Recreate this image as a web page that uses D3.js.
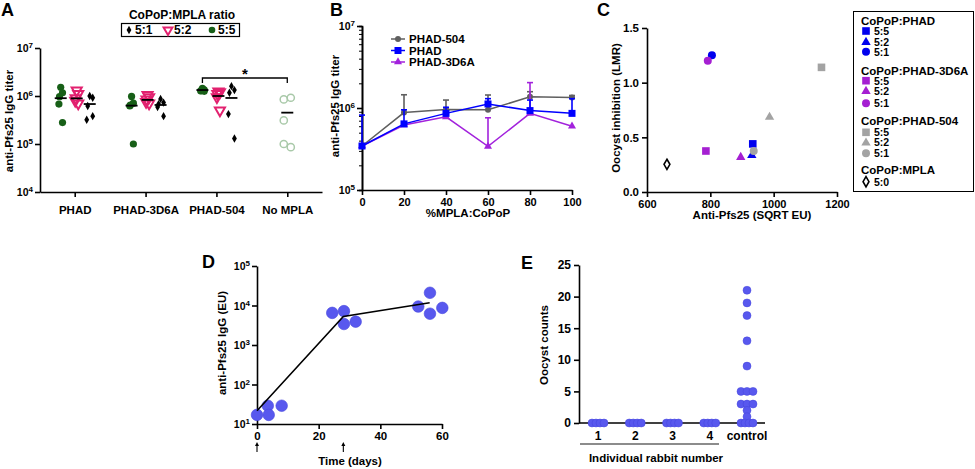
<!DOCTYPE html>
<html><head><meta charset="utf-8">
<script src="https://cdn.jsdelivr.net/npm/d3@7"></script>
<style>
body{margin:0;background:#fff}
text{font-family:"Liberation Sans",Arial,sans-serif;font-weight:bold;fill:#000}
</style>
</head><body><svg id="c" width="975" height="469" xmlns="http://www.w3.org/2000/svg"></svg>
<script>
// ---------------- DATA ----------------
// Panel A
const catsA = ["PHAD", "PHAD-3D6A", "PHAD-504", "No MPLA"];
const ratiosA = ["5:1", "5:2", "5:5"];
const a55 = [[1.52e6, 1.17e6, 9.7e5, 6.8e5, 2.8e5], [9.8e5, 7.1e5, 6.5e5, 6.2e5, 1.0e5], [1.45e6, 1.35e6, 1.3e6, 1.28e6, 1.25e6]];
const a52 = [[1.3e6, 1.1e6, 9.0e5, 8.0e5, 7.0e5], [1.05e6, 9.5e5, 8.5e5, 7.5e5, 7.0e5], [1.25e6, 1.2e6, 1.1e6, 9.5e5, 5.0e5]];
const a51 = [[1.0e6, 9.2e5, 6.2e5, 3.2e5, 3.8e5], [8.7e5, 7.3e5, 6.8e5, 5.9e5, 3.8e5], [1.6e6, 1.33e6, 1.17e6, 4.2e5, 1.3e5]];
const aNoMPLA = [8.5e5, 9.2e5, 3.1e5, 8.6e4, 1.0e5];
const aLine55 = [9.0e5, 6.3e5, 1.33e6];
const aLine52 = [8.9e5, 8.3e5, 1.0e6];
const aLine51 = [6.8e5, 6.5e5, 9.1e5];
const aLineNo = 4.5e5;
const aTicks = [1e4, 1e5, 1e6, 1e7];

// Panel B
const bX = [0, 20, 40, 60, 80, 100];
const b504 = [3.44e5, 8.8e5, 9.6e5, 9.5e5, 1.37e6, 1.34e6];
const b504Err = [3.44e5, 1.45e6, 1.25e6, 1.44e6, 1.58e6, 1.42e6];
const bPHAD = [3.44e5, 6.4e5, 8.6e5, 1.12e6, 9.3e5, 8.6e5];
const bPHADErr = [8.2e5, 9.5e5, 1.02e6, 1.3e6, 1.25e6, 1.3e6];
const b3D6A = [3.44e5, 6.2e5, 7.8e5, 3.4e5, 8.6e5, 6.0e5];
const b3D6AErr = [3.44e5, 6.2e5, 7.8e5, 7.6e5, 2.04e6, 6.0e5];
const bSeries = ["PHAD-504", "PHAD", "PHAD-3D6A"];

// Panel C  (order: 5:5, 5:2, 5:1)
const cRatios = ["5:5", "5:2", "5:1"];
const cPHADx = [934, 931, 805], cPHADy = [0.44, 0.34, 1.25];
const c3D6Ax = [786, 896, 792], c3D6Ay = [0.375, 0.323, 1.20];
const c504x = [1151, 987, 937], c504y = [1.14, 0.69, 0.375];
const cMPLAx = [663], cMPLAy = [0.253];
const cGroups = ["CoPoP:PHAD", "CoPoP:PHAD-3D6A", "CoPoP:PHAD-504", "CoPoP:MPLA"];

// Panel D
const dDays = [0, 3.5, 3.8, 8, 24.4, 28.2, 28.2, 32, 52.3, 56.1, 56.1, 60.1];
const dTiter = [17, 29, 17, 29, 6500, 7200, 3400, 3900, 9400, 21000, 6200, 8700];
const dLineDays = [0, 28, 56];
const dLineTiter = [21.6, 5300, 11700];
const dBoostDays = [0, 28];

// Panel E
const eCats = ["1", "2", "3", "4", "control"];
const eCounts = [
  [0, 0, 0, 0],
  [0, 0, 0, 0],
  [0, 0, 0, 0],
  [0, 0, 0, 0],
  [21, 19, 17, 13, 9, 5, 5, 5, 3, 3, 3, 2, 1, 0, 0, 0, 0]
];

// ---------------- DRAW ----------------
const svg = d3.select("#c");
const FS = "11.5px";

function styleAxis(g, fs) {
  g.selectAll(".domain").attr("stroke", "#000").attr("stroke-width", 1.6);
  g.selectAll(".tick line").attr("stroke", "#000").attr("stroke-width", 1.6);
  g.selectAll(".tick text").attr("font-size", fs || FS).attr("fill", "#000");
}
function powLabels(g) {
  g.selectAll(".tick text").each(function (d) {
    const t = d3.select(this);
    const e = Math.round(Math.log10(d));
    t.text("");
    t.append("tspan").text("10").attr("font-size", "10.5px");
    t.append("tspan").text(e).attr("dy", "-0.5em").attr("font-size", "8px");
  });
}
function panelLabel(txt, x, y) {
  svg.append("text").attr("x", x).attr("y", y).attr("font-size", "18px").text(txt);
}
function yTitle(txt, x, y) {
  svg.append("text").attr("transform", `translate(${x},${y}) rotate(-90)`)
    .attr("text-anchor", "middle").attr("dominant-baseline", "middle")
    .attr("font-size", FS).text(txt);
}
function xTitle(txt, x, y) {
  svg.append("text").attr("x", x).attr("y", y).attr("text-anchor", "middle")
    .attr("dominant-baseline", "middle").attr("font-size", FS).text(txt);
}

// ===== Panel A =====
panelLabel("A", 1, 16);
const yA = d3.scaleLog().domain([1e4, 1e7]).range([192, 48]);
const xA = d3.scalePoint().domain(catsA).range([40, 322]).padding(0.49);
svg.append("g").attr("transform", "translate(40,0)")
  .call(d3.axisLeft(yA).tickValues(aTicks).tickSize(5).tickSizeOuter(0).tickPadding(2))
  .call(g => { styleAxis(g); powLabels(g); });
svg.append("g").attr("transform", "translate(0,192)")
  .call(d3.axisBottom(xA).tickSize(5).tickSizeOuter(0).tickPadding(9))
  .call(g => styleAxis(g));
yTitle("anti-Pfs25 IgG titer", 10, 121);

const colGreen = "#175f17", colPink = "#e2216f", colNo = "#a9c9a9";
const subOff = { "5:5": -14, "5:2": 2, "5:1": 15 };
const jit = [0, 3, -2, -3, 3];
const gA = svg.append("g");
const symTri = d3.symbol().type(d3.symbolTriangle).size(44);
const symDia = d3.symbol().type(d3.symbolDiamond).size(20);
[0, 1, 2].forEach(ci => {
  const cx = xA(catsA[ci]);
  a55[ci].forEach((v, i) => gA.append("circle").attr("cx", cx + subOff["5:5"] + jit[i] * 0.6).attr("cy", yA(v))
    .attr("r", 3.6).attr("fill", colGreen));
  a52[ci].forEach((v, i) => gA.append("path").attr("d", symTri)
    .attr("transform", `translate(${cx + subOff["5:2"] + jit[i] * 0.5},${yA(v)}) rotate(180)`)
    .attr("fill", "none").attr("stroke", colPink).attr("stroke-width", 2));
  a51[ci].forEach((v, i) => gA.append("path").attr("d", symDia)
    .attr("transform", `translate(${cx + subOff["5:1"] + jit[i]},${yA(v)})`).attr("fill", "#000"));
  [["5:5", aLine55], ["5:2", aLine52], ["5:1", aLine51]].forEach(([r, arr]) => {
    const x0 = cx + subOff[r];
    gA.append("line").attr("x1", x0 - 6).attr("x2", x0 + 6).attr("y1", yA(arr[ci])).attr("y2", yA(arr[ci]))
      .attr("stroke", "#000").attr("stroke-width", 1.8);
  });
});
{
  const cx = xA(catsA[3]);
  aNoMPLA.forEach((v, i) => gA.append("circle").attr("cx", cx + (i % 2 ? 3.5 : -3.5)).attr("cy", yA(v))
    .attr("r", 3.6).attr("fill", "none").attr("stroke", colNo).attr("stroke-width", 1.5));
  gA.append("line").attr("x1", cx - 6).attr("x2", cx + 6).attr("y1", yA(aLineNo)).attr("y2", yA(aLineNo))
    .attr("stroke", "#000").attr("stroke-width", 1.8);
}
{
  const x1 = xA("PHAD-504") + subOff["5:5"], x2 = xA("No MPLA");
  svg.append("path").attr("d", `M${x1},83 V78 H${x2} V83`).attr("fill", "none").attr("stroke", "#000").attr("stroke-width", 1.3);
  svg.append("text").attr("x", (x1 + x2) / 2).attr("y", 79).attr("text-anchor", "middle").attr("font-size", "15px").text("*");
}
svg.append("text").attr("x", 182).attr("y", 19).attr("text-anchor", "middle").attr("font-size", "12px").text("CoPoP:MPLA ratio");
svg.append("rect").attr("x", 121.5).attr("y", 23.5).attr("width", 118).attr("height", 13).attr("fill", "none").attr("stroke", "#000").attr("stroke-width", 1.2);
const legA = [["5:1", 129], ["5:2", 168], ["5:5", 212]];
legA.forEach(([r, x]) => {
  if (r === "5:1") svg.append("path").attr("d", symDia).attr("transform", `translate(${x},30)`).attr("fill", "#000");
  if (r === "5:2") svg.append("path").attr("d", d3.symbol().type(d3.symbolTriangle).size(34)).attr("transform", `translate(${x},30) rotate(180)`).attr("fill", "none").attr("stroke", colPink).attr("stroke-width", 2);
  if (r === "5:5") svg.append("circle").attr("cx", x).attr("cy", 30).attr("r", 3.3).attr("fill", colGreen);
  svg.append("text").attr("x", x + 6).attr("y", 34).attr("font-size", "12px").text(r);
});

// ===== Panel B =====
panelLabel("B", 330, 16);
const yB = d3.scaleLog().domain([1e5, 1e7]).range([190, 26]);
const xB = d3.scaleLinear().domain([0, 100]).range([362, 572]);
const minorB = [];
[1e5, 1e6].forEach(b => { for (let k = 2; k <= 9; k++) minorB.push(b * k); });
svg.append("g").attr("transform", "translate(362,0)")
  .call(d3.axisLeft(yB).tickValues(minorB).tickSize(3).tickFormat(""))
  .call(g => { styleAxis(g); g.selectAll(".tick line").attr("stroke-width", 1); });
svg.append("g").attr("transform", "translate(362,0)")
  .call(d3.axisLeft(yB).tickValues([1e5, 1e6, 1e7]).tickSize(5).tickSizeOuter(0).tickPadding(2))
  .call(g => { styleAxis(g); powLabels(g); });
svg.append("g").attr("transform", "translate(0,190)")
  .call(d3.axisBottom(xB).tickValues(bX).tickSize(5).tickSizeOuter(0).tickPadding(3))
  .call(g => styleAxis(g, "11px"));
yTitle("anti-Pfs25 IgG titer", 336, 106);
xTitle("%MPLA:CoPoP", 468, 214);

const colB = { "PHAD-504": "#5f5f5f", "PHAD": "#0000ff", "PHAD-3D6A": "#a222dc" };
const valsB = { "PHAD-504": b504, "PHAD": bPHAD, "PHAD-3D6A": b3D6A };
const errB = { "PHAD-504": b504Err, "PHAD": bPHADErr, "PHAD-3D6A": b3D6AErr };
const lineB = d3.line().x((d, i) => xB(bX[i])).y(d => yB(d));
function markerB(g, s, x, y) {
  if (s === "PHAD-504") g.append("circle").attr("cx", x).attr("cy", y).attr("r", 3).attr("fill", colB[s]);
  if (s === "PHAD") g.append("rect").attr("x", x - 3.5).attr("y", y - 3.5).attr("width", 7).attr("height", 7).attr("fill", colB[s]);
  if (s === "PHAD-3D6A") g.append("path").attr("d", d3.symbol().type(d3.symbolTriangle).size(28)).attr("transform", `translate(${x},${y})`).attr("fill", colB[s]);
}
const gB = svg.append("g");
["PHAD-504", "PHAD-3D6A", "PHAD"].forEach(s => {
  const v = valsB[s], e = errB[s];
  v.forEach((d, i) => {
    if (e[i] > d) {
      const x = xB(bX[i]);
      gB.append("line").attr("x1", x).attr("x2", x).attr("y1", yB(d)).attr("y2", yB(e[i])).attr("stroke", colB[s]).attr("stroke-width", 1.6);
      gB.append("line").attr("x1", x - 3).attr("x2", x + 3).attr("y1", yB(e[i])).attr("y2", yB(e[i])).attr("stroke", colB[s]).attr("stroke-width", 1.6);
    }
  });
  gB.append("path").datum(v).attr("d", lineB).attr("fill", "none").attr("stroke", colB[s]).attr("stroke-width", 1.5);
  v.forEach((d, i) => markerB(gB, s, xB(bX[i]), yB(d)));
});
bSeries.forEach((s, i) => {
  const y = 39 + i * 11.5;
  svg.append("line").attr("x1", 391).attr("x2", 405).attr("y1", y).attr("y2", y).attr("stroke", colB[s]).attr("stroke-width", 1.5);
  markerB(svg, s, 398, y);
  svg.append("text").attr("x", 409).attr("y", y + 4.2).attr("font-size", "11.5px").text(s);
});

// ===== Panel C =====
panelLabel("C", 597, 16);
const xC = d3.scaleLinear().domain([600, 1200]).range([647, 837]);
const yC = d3.scaleLinear().domain([0, 1.5]).range([192, 28]);
svg.append("g").attr("transform", "translate(647,0)")
  .call(d3.axisLeft(yC).tickValues([0, 0.5, 1.0, 1.5]).tickFormat(d3.format(".1f")).tickSize(5).tickSizeOuter(0).tickPadding(3))
  .call(g => styleAxis(g));
svg.append("g").attr("transform", "translate(0,192)")
  .call(d3.axisBottom(xC).tickValues([600, 800, 1000, 1200]).tickFormat(d3.format("d")).tickSize(5).tickSizeOuter(0).tickPadding(3))
  .call(g => styleAxis(g, "11px"));
yTitle("Oocyst inhibition (LMR)", 617, 108);
xTitle("Anti-Pfs25 (SQRT EU)", 752, 216);

const colC = ["#0000ee", "#a51fd2", "#a3a3a3"];
function markerC(g, shape, col, x, y) {
  if (shape === 0) g.append("rect").attr("x", x - 3.8).attr("y", y - 3.8).attr("width", 7.6).attr("height", 7.6).attr("fill", col);
  if (shape === 1) g.append("path").attr("d", d3.symbol().type(d3.symbolTriangle).size(38)).attr("transform", `translate(${x},${y + 0.5})`).attr("fill", col);
  if (shape === 2) g.append("circle").attr("cx", x).attr("cy", y).attr("r", 4).attr("fill", col);
  if (shape === 3) g.append("path").attr("d", d3.symbol().type(d3.symbolDiamond).size(30)).attr("transform", `translate(${x},${y})`).attr("fill", "#fff").attr("stroke", "#000").attr("stroke-width", 1.6);
}
const gC = svg.append("g");
[[cPHADx, cPHADy], [c3D6Ax, c3D6Ay], [c504x, c504y]].forEach(([xs, ys], gi) => {
  xs.forEach((xv, i) => markerC(gC, i, colC[gi], xC(xv), yC(ys[i])));
});
cMPLAx.forEach((xv, i) => markerC(gC, 3, "#000", xC(xv), yC(cMPLAy[i])));
svg.append("rect").attr("x", 853.5).attr("y", 11.5).attr("width", 120).attr("height", 180).attr("fill", "none").attr("stroke", "#000").attr("stroke-width", 1);
const legRowsY = [[20.7, 31, 41.7, 51.7], [70.7, 80.7, 90.7, 103.3], [120.7, 132.3, 142.3, 153.3]];
function legTxt(x, y, t, fs) {
  svg.append("text").attr("x", x).attr("y", y + 4).attr("font-size", fs || "11.5px").text(t);
}
cGroups.slice(0, 3).forEach((gname, gi) => {
  const ry = legRowsY[gi];
  legTxt(861, ry[0], gname);
  cRatios.forEach((r, i) => {
    markerC(svg, i, colC[gi], 866, ry[i + 1]);
    legTxt(874, ry[i + 1], r, "10.5px");
  });
});
legTxt(861, 170, cGroups[3]);
markerC(svg, 3, "#000", 866, 181.7);
legTxt(874, 181.7, "5:0", "10.5px");

// ===== Panel D =====
panelLabel("D", 202, 268);
const yD = d3.scaleLog().domain([10, 1e5]).range([424, 266]);
const xD = d3.scaleLinear().domain([0, 60]).range([257, 442]);
svg.append("g").attr("transform", "translate(257,0)")
  .call(d3.axisLeft(yD).tickValues([10, 100, 1e3, 1e4, 1e5]).tickSize(5).tickSizeOuter(0).tickPadding(2))
  .call(g => { styleAxis(g); powLabels(g); });
svg.append("g").attr("transform", "translate(0,424)")
  .call(d3.axisBottom(xD).tickValues([0, 20, 40, 60]).tickSize(5).tickSizeOuter(0).tickPadding(3))
  .call(g => styleAxis(g));
yTitle("anti-Pfs25 IgG (EU)", 223, 343);
xTitle("Time (days)", 350, 462);
const colPt = "#5858ee";
svg.append("g").selectAll("circle").data(dDays).join("circle")
  .attr("cx", d => xD(d)).attr("cy", (d, i) => yD(dTiter[i])).attr("r", 5.8)
  .attr("fill", colPt).attr("stroke", "#4444dd").attr("stroke-width", 0.6);
svg.append("path").datum(dLineDays)
  .attr("d", d3.line().x(d => xD(d)).y((d, i) => yD(dLineTiter[i])))
  .attr("fill", "none").attr("stroke", "#000").attr("stroke-width", 1.6);
dBoostDays.forEach(d => {
  const x = xD(d);
  svg.append("line").attr("x1", x).attr("x2", x).attr("y1", 452).attr("y2", 444).attr("stroke", "#000").attr("stroke-width", 1.1);
  svg.append("path").attr("d", `M${x - 2},${446} L${x},${442} L${x + 2},${446} Z`).attr("fill", "#000");
});

// ===== Panel E =====
panelLabel("E", 521, 269);
const yE = d3.scaleLinear().domain([0, 25]).range([423, 265]);
const xE = d3.scalePoint().domain(eCats).range([598, 747]);
svg.append("g").attr("transform", "translate(579,0)")
  .call(d3.axisLeft(yE).tickValues([0, 5, 10, 15, 20, 25]).tickSize(5).tickSizeOuter(0).tickPadding(3))
  .call(g => styleAxis(g, "12px"));
svg.append("line").attr("x1", 579).attr("x2", 765).attr("y1", 423).attr("y2", 423).attr("stroke", "#000").attr("stroke-width", 1.6);
eCats.forEach(c => svg.append("text").attr("x", xE(c)).attr("y", 437).attr("text-anchor", "middle")
  .attr("dominant-baseline", "middle").attr("font-size", "12px").text(c));
svg.append("line").attr("x1", 580).attr("x2", 719).attr("y1", 444).attr("y2", 444).attr("stroke", "#666").attr("stroke-width", 1.5);
xTitle("Individual rabbit number", 656, 459);
yTitle("Oocyst counts", 545, 345);
const gE = svg.append("g");
eCats.forEach((c, ci) => {
  const groups = d3.group(eCounts[ci], v => v);
  groups.forEach((arr, v) => {
    const n = arr.length;
    const step = n > 1 ? Math.min(6.5, 12 / (n - 1)) : 0;
    arr.forEach((_, i) => gE.append("circle").attr("cx", xE(c) + (i - (n - 1) / 2) * step).attr("cy", yE(v))
      .attr("r", 4).attr("fill", colPt).attr("stroke", "#4444dd").attr("stroke-width", 0.5));
  });
});
</script></body></html>
